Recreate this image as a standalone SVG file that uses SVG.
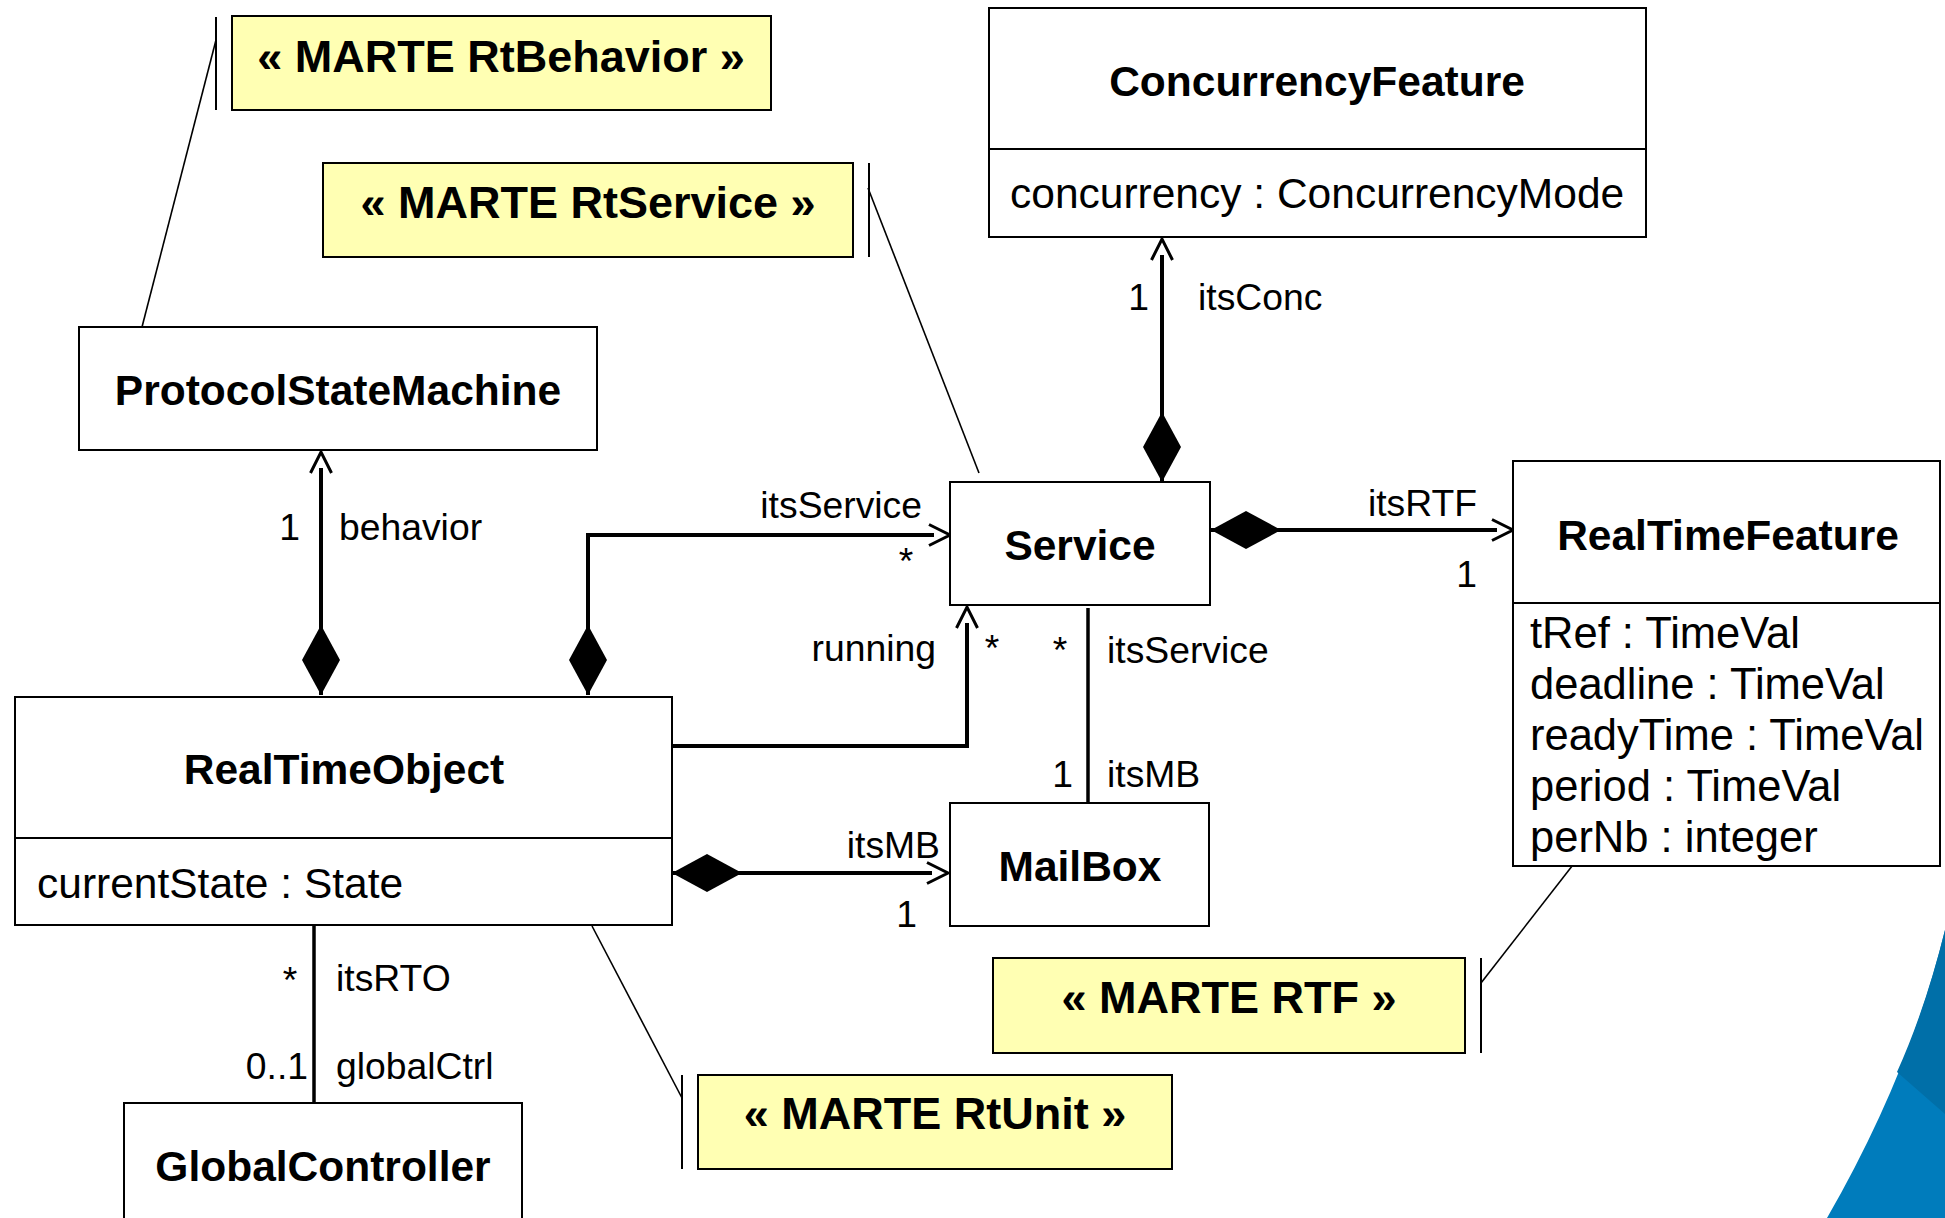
<svg xmlns="http://www.w3.org/2000/svg" width="1945" height="1218" viewBox="0 0 1945 1218">
<style>
.box{fill:#fff;stroke:#000;stroke-width:2}
.note{fill:#FFFFB3;stroke:#000;stroke-width:2}
.bar{stroke:#000;stroke-width:2;fill:none}
.anchor{stroke:#000;stroke-width:1.6;fill:none}
.title{font-family:"Liberation Sans",Arial,sans-serif;font-weight:bold;font-size:42.5px;text-anchor:middle;fill:#000}
.ntext{font-family:"Liberation Sans",Arial,sans-serif;font-weight:bold;font-size:45px;text-anchor:middle;fill:#000}
.attr{font-family:"Liberation Sans",Arial,sans-serif;font-size:42.5px;fill:#000}
.attr2{font-family:"Liberation Sans",Arial,sans-serif;font-size:43.5px;fill:#000}
.lbl{font-family:"Liberation Sans",Arial,sans-serif;font-size:37.3px;fill:#000}
.end{text-anchor:end}
.mid{text-anchor:middle}
.conn{stroke:#000;stroke-width:4;fill:none}
.plain{stroke:#000;stroke-width:3.5;fill:none}
</style>
<defs>
<marker id="arrow" markerUnits="userSpaceOnUse" markerWidth="40" markerHeight="40" viewBox="-10 -20 40 40" refX="0" refY="0" orient="auto">
<path d="M -5,-10.5 L 16,0 L -5,10.5" fill="none" stroke="#000" stroke-width="3"/>
</marker>
<marker id="diamond" markerUnits="userSpaceOnUse" markerWidth="80" markerHeight="44" viewBox="-2 -22 80 44" refX="0" refY="0" orient="auto">
<path d="M 0,0 L 35,-19 L 70,0 L 35,19 Z" fill="#000"/>
</marker>
</defs>
<rect width="1945" height="1218" fill="#fff"/>

<g id="decoration">
<path d="M 1945,930 Q 1910,1074 1827,1218 L 1945,1218 Z" fill="#007CBC"/>
<path d="M 1945,930 Q 1925,1010 1897,1072 L 1945,1114 Z" fill="#006FA8"/>
</g>

<g id="connectors">
<path class="conn" d="M 321,695 L 321,468" marker-start="url(#diamond)" marker-end="url(#arrow)"/>
<path class="conn" d="M 588,695 L 588,535 L 934,535" marker-start="url(#diamond)" marker-end="url(#arrow)"/>
<path class="conn" d="M 672,746 L 967,746 L 967,623" marker-end="url(#arrow)"/>
<path class="conn" d="M 672,873 L 932,873" marker-start="url(#diamond)" marker-end="url(#arrow)"/>
<path class="conn" d="M 1162,482 L 1162,255" marker-start="url(#diamond)" marker-end="url(#arrow)"/>
<path class="conn" d="M 1211,530 L 1497,530" marker-start="url(#diamond)" marker-end="url(#arrow)"/>
<path class="plain" d="M 1088,608 L 1088,802"/>
<path class="plain" d="M 314,925 L 314,1103"/>
<path class="anchor" d="M 216,40 L 142,327"/>
<path class="anchor" d="M 868,188 L 979,473"/>
<path class="anchor" d="M 682,1098 L 592,926"/>
<path class="anchor" d="M 1481,983 L 1583,852"/>

<text class="lbl end" x="300" y="540">1</text>
<text class="lbl" x="339" y="540">behavior</text>
<text class="lbl end" x="922" y="518">itsService</text>
<text class="lbl mid" x="906" y="574">*</text>
<text class="lbl end" x="936" y="661">running</text>
<text class="lbl mid" x="992" y="661">*</text>
<text class="lbl mid" x="1060" y="663">*</text>
<text class="lbl" x="1107" y="663">itsService</text>
<text class="lbl end" x="1073" y="787">1</text>
<text class="lbl" x="1107" y="787">itsMB</text>
<text class="lbl end" x="940" y="858">itsMB</text>
<text class="lbl end" x="917" y="927">1</text>
<text class="lbl end" x="1149" y="310">1</text>
<text class="lbl" x="1198" y="310">itsConc</text>
<text class="lbl end" x="1477" y="516">itsRTF</text>
<text class="lbl end" x="1477" y="587">1</text>
<text class="lbl mid" x="290" y="993">*</text>
<text class="lbl" x="336" y="991">itsRTO</text>
<text class="lbl end" x="308" y="1079">0..1</text>
<text class="lbl" x="336" y="1079">globalCtrl</text>
</g>

<g id="note-rtbehavior">
<rect class="note" x="232" y="16" width="539" height="94"/>
<line class="bar" x1="216" y1="17" x2="216" y2="110"/>
<text class="ntext" x="501" y="72">« MARTE RtBehavior »</text>
</g>

<g id="note-rtservice">
<rect class="note" x="323" y="163" width="530" height="94"/>
<line class="bar" x1="869" y1="163" x2="869" y2="257"/>
<text class="ntext" x="588" y="218">« MARTE RtService »</text>
</g>

<g id="note-rtf">
<rect class="note" x="993" y="958" width="472" height="95"/>
<line class="bar" x1="1481" y1="958" x2="1481" y2="1053"/>
<text class="ntext" x="1229" y="1013">« MARTE RTF »</text>
</g>

<g id="note-rtunit">
<rect class="note" x="698" y="1075" width="474" height="94"/>
<line class="bar" x1="682" y1="1075" x2="682" y2="1169"/>
<text class="ntext" x="935" y="1129">« MARTE RtUnit »</text>
</g>

<g id="ProtocolStateMachine">
<rect class="box" x="79" y="327" width="518" height="123"/>
<text class="title" x="338" y="405">ProtocolStateMachine</text>
</g>

<g id="ConcurrencyFeature">
<rect class="box" x="989" y="8" width="657" height="229"/>
<line class="bar" x1="989" y1="149" x2="1646" y2="149"/>
<text class="title" x="1317" y="96">ConcurrencyFeature</text>
<text class="attr" x="1010" y="208">concurrency : ConcurrencyMode</text>
</g>

<g id="Service">
<rect class="box" x="950" y="482" width="260" height="123"/>
<text class="title" x="1080" y="560">Service</text>
</g>

<g id="RealTimeFeature">
<rect class="box" x="1513" y="461" width="427" height="405"/>
<line class="bar" x1="1513" y1="603" x2="1940" y2="603"/>
<text class="title" x="1728" y="550">RealTimeFeature</text>
<text class="attr2" x="1530" y="648">tRef : TimeVal</text>
<text class="attr2" x="1530" y="699">deadline : TimeVal</text>
<text class="attr2" x="1530" y="750">readyTime : TimeVal</text>
<text class="attr2" x="1530" y="801">period : TimeVal</text>
<text class="attr2" x="1530" y="852">perNb : integer</text>
</g>

<g id="RealTimeObject">
<rect class="box" x="15" y="697" width="657" height="228"/>
<line class="bar" x1="15" y1="838" x2="672" y2="838"/>
<text class="title" x="344" y="784">RealTimeObject</text>
<text class="attr" x="37" y="898">currentState : State</text>
</g>

<g id="MailBox">
<rect class="box" x="950" y="803" width="259" height="123"/>
<text class="title" x="1080" y="881">MailBox</text>
</g>

<g id="GlobalController">
<rect class="box" x="124" y="1103" width="398" height="140"/>
<text class="title" x="323" y="1181">GlobalController</text>
</g>
</svg>
